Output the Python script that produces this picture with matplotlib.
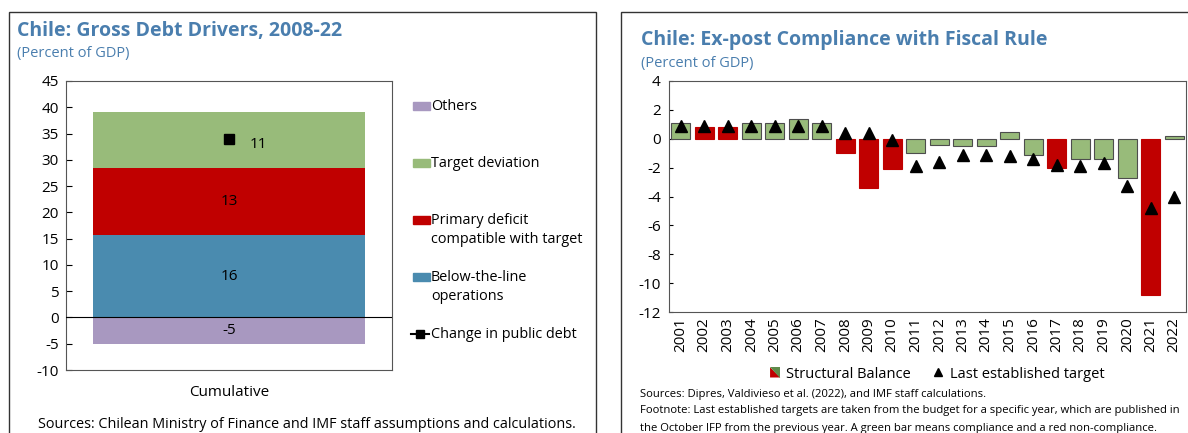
import matplotlib
matplotlib.use("Agg")
import matplotlib.pyplot as plt
from matplotlib.patches import Rectangle, Polygon
from matplotlib.lines import Line2D
from matplotlib.legend_handler import HandlerBase

plt.rcParams['font.family'] = ['Open Sans', 'DejaVu Sans']
plt.rcParams['axes.unicode_minus'] = False

# left chart data
driver_names = ["Others", "Below-the-line\noperations",
                "Primary deficit\ncompatible with target", "Target deviation"]
driver_values = [-5.1, 15.7, 12.8, 10.6]
driver_labels = ["-5", "16", "13", "11"]
driver_colors = ["#A898C0", "#4A8BAF", "#C00000", "#98BB7A"]
debt_change = 33.9

# right chart data
years = [str(y) for y in range(2001, 2023)]
structural_balance = [1.1, 0.8, 0.8, 1.1, 1.1, 1.4, 1.1, -1.0, -3.4, -2.1, -1.0,
                      -0.4, -0.5, -0.5, 0.5, -1.1, -2.0, -1.4, -1.4, -2.7, -10.8, 0.2]
last_target = [0.9, 0.9, 0.9, 0.9, 0.9, 0.9, 0.9, 0.4, 0.4, -0.1, -1.9,
               -1.6, -1.1, -1.1, -1.2, -1.4, -1.8, -1.9, -1.7, -3.3, -4.8, -4.0]
complied = [True, False, False, True, True, True, True, False, False, False, True,
            True, True, True, True, True, False, True, True, True, False, True]

W, H = 1188, 433
title_color = "#4A7EAE"
green = "#98BB7A"
red = "#C00000"

fig = plt.figure(figsize=(W / 100, H / 100), dpi=100)


def fx(px):
    return px / W


def fy(py):
    return 1 - py / H


# panel frames
fig.patches.append(Rectangle((fx(9), fy(440)), fx(587), 428 / H,
                             transform=fig.transFigure, fill=False,
                             edgecolor="#333333", linewidth=1.0))
fig.patches.append(Rectangle((fx(621), fy(440)), fx(600), 428 / H,
                             transform=fig.transFigure, fill=False,
                             edgecolor="#333333", linewidth=1.0))

# ---------------- left chart ----------------
ax1 = fig.add_axes([fx(66), fy(370), fx(326), (370 - 81) / H])
bottom_pos = 0.0
bottom_neg = 0.0
for val, col, lab in zip(driver_values, driver_colors, driver_labels):
    if val >= 0:
        b = bottom_pos
        bottom_pos += val
    else:
        b = bottom_neg
        bottom_neg += val
    ax1.bar(0, val, bottom=b, width=0.834, color=col, zorder=2)
    xoff = 0.09 if lab == "11" else 0.0
    ax1.text(xoff, b + val / 2 - (0.8 if lab == "11" else 0), lab,
             ha="center", va="center", fontsize=11, color="black", zorder=4)
ax1.plot([0], [debt_change], marker="s", color="black", markersize=7,
         linestyle="none", zorder=5)
ax1.axhline(0, color="black", linewidth=0.8, zorder=3)
ax1.set_xlim(-0.5, 0.5)
ax1.set_ylim(-10, 45)
ax1.set_yticks(range(-10, 46, 5))
ax1.set_xticks([0])
ax1.set_xticklabels(["Cumulative"])
ax1.tick_params(axis="y", direction="in", length=4, labelsize=11, pad=5)
ax1.tick_params(axis="x", length=0, labelsize=11, pad=11)
for sp in ax1.spines.values():
    sp.set_color("#555555")

fig.text(fx(17), fy(31), "Chile: Gross Debt Drivers, 2008-22", fontsize=14,
         fontweight="bold", color=title_color, va="center", ha="left")
fig.text(fx(17), fy(53), "(Percent of GDP)", fontsize=10.5, color=title_color,
         va="center", ha="left")
fig.text(fx(307), fy(425), "Sources: Chilean Ministry of Finance and IMF staff "
         "assumptions and calculations.", fontsize=10.4, ha="center", va="center")

# left legend drawn by hand to keep Excel's layout
legend_rows = [("Others", driver_colors[0], 106),
               ("Target deviation", driver_colors[3], 163),
               ("Primary deficit\ncompatible with target", driver_colors[2], 220),
               ("Below-the-line\noperations", driver_colors[1], 277)]
for text, col, py in legend_rows:
    fig.patches.append(Rectangle((fx(413), fy(py + 4)), fx(17), 8 / H,
                                 transform=fig.transFigure, color=col))
    fig.text(fx(431), fy(py - 7), text, fontsize=10.4, ha="left", va="top",
             linespacing=1.35)
fig.lines.append(Line2D([fx(411), fx(429)], [fy(334), fy(334)],
                        transform=fig.transFigure, color="black", linewidth=1.5))
fig.lines.append(Line2D([fx(420)], [fy(334)], transform=fig.transFigure,
                        color="black", marker="s", markersize=6))
fig.text(fx(431), fy(335), "Change in public debt", fontsize=10.4, ha="left",
         va="center")

# ---------------- right chart ----------------
ax2 = fig.add_axes([fx(669), fy(312), fx(517), (312 - 81) / H])
x = list(range(len(years)))
bar_cols = [green if ok else red for ok in complied]
edges = ["#4D4D4D" if ok else red for ok in complied]
ax2.bar(x, structural_balance, width=0.82, color=bar_cols, edgecolor=edges,
        linewidth=0.8, zorder=2)
ax2.plot(x, last_target, marker="^", color="black", markersize=9,
         linestyle="none", zorder=4)
ax2.set_xlim(-0.5, len(years) - 0.5)
ax2.set_ylim(-12, 4)
ax2.set_yticks(range(-12, 5, 2))
ax2.set_xticks(x)
ax2.set_xticklabels(years, rotation=90)
ax2.tick_params(axis="y", direction="in", length=3, labelsize=11, pad=6)
ax2.tick_params(axis="x", length=0, labelsize=11, pad=4)
for sp in ax2.spines.values():
    sp.set_color("#555555")

fig.text(fx(641), fy(40), "Chile: Ex-post Compliance with Fiscal Rule",
         fontsize=14, fontweight="bold", color=title_color, va="center",
         ha="left")
fig.text(fx(641), fy(63), "(Percent of GDP)", fontsize=10.5, color=title_color,
         va="center", ha="left")


class SplitPatchHandler(HandlerBase):
    def create_artists(self, legend, orig_handle, xdescent, ydescent, width,
                       height, fontsize, trans):
        s = min(width, height)
        x0 = xdescent + width - s
        y0 = -ydescent
        lower = Polygon([[x0, y0], [x0 + s, y0], [x0, y0 + s]], closed=True,
                        facecolor=red, edgecolor="none", transform=trans)
        upper = Polygon([[x0 + s, y0], [x0 + s, y0 + s], [x0, y0 + s]],
                        closed=True, facecolor="#5E8A4A", edgecolor="none",
                        transform=trans)
        return [lower, upper]


sb_handle = Rectangle((0, 0), 1, 1)
tri_handle = Line2D([], [], marker="^", color="black", linestyle="none",
                    markersize=6)
ax2.legend([sb_handle, tri_handle], ["Structural Balance", "Last established target"],
           handler_map={Rectangle: SplitPatchHandler()}, loc="center",
           bbox_to_anchor=(fx(936), fy(374)), bbox_transform=fig.transFigure,
           ncol=2, frameon=False, fontsize=10.5, handlelength=0.9,
           handletextpad=0.4, columnspacing=1.4)

fn_size = 8.1
fig.text(fx(640), fy(395), "Sources: Dipres, Valdivieso et al. (2022), and IMF "
         "staff calculations.", fontsize=fn_size, ha="left", va="center")
fig.text(fx(640), fy(411), "Footnote: Last established targets are taken from "
         "the budget for a specific year, which are published in",
         fontsize=fn_size, ha="left", va="center")
fig.text(fx(640), fy(428), "the October IFP from the previous year. A green bar "
         "means compliance and a red non-compliance.", fontsize=fn_size,
         ha="left", va="center")

fig.savefig("out.png", dpi=100)
